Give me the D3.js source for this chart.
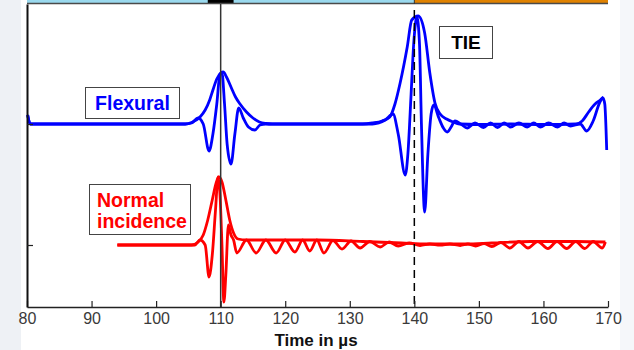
<!DOCTYPE html>
<html><head><meta charset="utf-8">
<script src="https://cdn.jsdelivr.net/npm/d3@7"></script>
<style>
html,body{margin:0;padding:0;background:#fff;}
svg{display:block;}
text{font-family:"Liberation Sans",Arial,sans-serif;}
</style></head>
<body>
<div id="chart"></div>
<script>
// ---- data (time in µs, amplitude in arbitrary units relative to each trace baseline) ----
const xTicks = [80, 90, 100, 110, 120, 130, 140, 150, 160, 170];
const xLabel = "Time in µs";
const seriesNames = ["Flexural", "Normal incidence"];
const markerTimes = [110, 140];
const markerLabel = "TIE";
const bandSegments = [
  {from: 80, to: 140, color: "#9ad9ee"},
  {from: 140, to: 170, color: "#e08200"},
  {from: 108, to: 112, color: "#000000"}
];
const flexOffset = 18.3;
const normalOffset = 6.2;

const flexWave = [
  [80.1,0.9],[80.5,0],[104.5,0],[105.5,0.1],[106.5,0.6],[107.3,0.0],[108.2,-2.7],[108.8,-1.0],
  [109.4,2.0],[109.9,5.0],[110.2,5.1],[110.6,2.0],[111.0,-2.0],[111.6,-4.0],[112.2,-1.0],
  [112.8,1.6],[113.5,0.6],[114.3,-0.3],[115.3,-0.6],[116.1,-0.1],[117,0],[133.5,0],[134.5,0.1],
  [135.5,0.4],[136.7,1.0],[137.5,-1.0],[138.6,-5.1],[139.0,-3.0],[139.5,3.0],[139.9,8.0],
  [140.4,10.7],[140.8,8.0],[141.1,0],[141.6,-8.8],[142.1,-3.0],[142.6,1.0],[143.0,1.9],
  [143.8,0.6],[144.5,-0.4],[145.1,-0.8],[145.7,-0.3],[146.3,0.3],[147.2,0.0],[148.2,-0.4],
  [149.4,0.1],[150.7,-0.35],[151.8,0.1],[152.9,-0.35],[153.9,0.1],[154.9,-0.3],[156.2,0.1],
  [157.5,-0.3],[158.5,0.1],[159.5,-0.3],[160.8,0.1],[162.2,-0.3],[163.2,0.1],[164.2,-0.2],
  [165.7,0],[166.7,-0.7],[167.7,0.3],[168.75,2.2],[169.2,2.6],[169.5,2.0],[169.8,-2.6]
];
const flexEnvelope = [
  [80.1,0.9],[80.5,0],[104.5,0],[105.5,0.15],[106.8,0.7],[107.6,1.4],[108.3,2.4],[108.8,3.4],
  [109.4,4.5],[110.0,5.1],[110.4,5.2],[110.9,4.7],[111.6,3.7],[112.3,2.7],[113.0,2.0],[114.0,1.2],
  [115.0,0.6],[116.0,0.2],[117.0,0.05],[118,0],[132,0],[133.5,0.1],[135,0.3],[136.2,0.7],
  [137.0,2.0],[137.8,4.1],[138.9,7.7],[139.6,10.4],[140.6,10.8],[141.6,9.1],[142.4,5.1],
  [143.2,2.1],[144.0,1.0],[145.0,0.5],[146,0.2],[147,0.0],[150,-0.05],[155,0.0],[160,-0.05],
  [165.0,0.0],[166.0,0.3],[167.0,1.2],[168.0,2.0],[168.8,2.4],[169.3,2.7]
];
const normalWave = [
  [94.0,0],[106.0,0],[106.8,0.5],[107.6,0.0],[108.2,-3.2],[108.7,-1.0],[109.2,3.5],[109.6,6.8],
  [109.9,5.0],[110.2,0.0],[110.5,-5.7],[110.8,-3.0],[111.2,2.0],[111.6,1.0],[112.0,0.5],
  [112.5,-0.8],[114.0,0.5],[115.5,-0.8],[117.0,0.5],[118.6,-0.8],[120.0,0.5],[121.5,-0.7],
  [122.7,0.5],[123.8,-0.6],[124.9,0.5],[126.0,-0.8],[127.4,0.45],[128.8,-0.4],[130.2,0.4],
  [131.6,-0.3],[133.1,0.35],[134.7,-0.2],[136.1,0.3],[137.5,-0.1],[139.2,0.2],[140.9,-0.05],
  [142.4,0.1],[144.0,0.0],[145.5,0.1],[147.1,-0.05],[148.3,0.1],[149.5,-0.1],[150.8,0.15],
  [152.0,-0.15],[153.4,0.25],[154.8,-0.3],[156.2,0.35],[157.6,-0.3],[159.1,0.35],[160.7,-0.35],
  [162.1,0.35],[163.6,-0.35],[165.0,0.35],[166.4,-0.35],[167.7,0.35],[169.1,-0.3],[169.6,0.3]
];
const normalEnvelope = [
  [94,0],[105.5,0],[106.5,0.3],[107.3,1.0],[108.0,2.5],[108.7,4.5],[109.3,6.2],[109.7,6.8],
  [110.2,6.3],[110.8,4.5],[111.4,2.5],[112.0,1.2],[112.7,0.6],[114,0.5],[125,0.5],[132,0.35],
  [138,0.2],[142,0.1],[148,0.1],[152,0.2],[158,0.35],[165,0.35],[169.6,0.3]
];

// ---- drawing ----
const W = 634, H = 350;
const svg = d3.select("#chart").append("svg").attr("width", W).attr("height", H);

// side background
svg.append("rect").attr("x",0).attr("y",0).attr("width",21).attr("height",H).attr("fill","#eef1f5");
svg.append("rect").attr("x",620).attr("y",0).attr("width",14).attr("height",H).attr("fill","#f5f7fa");

const x = d3.scaleLinear().domain([80,170]).range([27,608]);
const y = d3.scaleLinear().domain([0,30.3]).range([307,4]);

// top band
bandSegments.forEach(s => {
  svg.append("rect").attr("x", x(s.from)).attr("y", -2)
    .attr("width", x(s.to)-x(s.from)).attr("height", 5).attr("fill", s.color);
});
svg.append("line").attr("x1",x(80)).attr("x2",x(170)).attr("y1",3.5).attr("y2",3.5)
  .attr("stroke","#4a4a4a").attr("stroke-width",1.5);
svg.append("line").attr("x1",x(140)).attr("x2",x(140)).attr("y1",0).attr("y2",4)
  .attr("stroke","#333").attr("stroke-width",1);

// traces
const mk = off => d3.line().x(d=>x(d[0])).y(d=>y(off+d[1])).curve(d3.curveMonotoneX);
const traces = [
  {data: flexEnvelope, off: flexOffset, color:"#0000ff"},
  {data: flexWave, off: flexOffset, color:"#0000ff"},
  {data: normalEnvelope, off: normalOffset, color:"#ff0000"},
  {data: normalWave, off: normalOffset, color:"#ff0000"}
];
traces.forEach(t => {
  svg.append("path").attr("d", mk(t.off)(t.data)).attr("fill","none")
    .attr("stroke", t.color).attr("stroke-width", 2.8).attr("stroke-linejoin","round");
});

// marker lines
svg.append("line").attr("x1",x(markerTimes[0])).attr("x2",x(markerTimes[0]))
  .attr("y1",4).attr("y2",307).attr("stroke","#333").attr("stroke-width",1.5);
svg.append("line").attr("x1",x(markerTimes[1])).attr("x2",x(markerTimes[1]))
  .attr("y1",10).attr("y2",307).attr("stroke","#000").attr("stroke-width",1.5)
  .attr("stroke-dasharray","8,5");

// axes
const xAxis = d3.axisBottom(x).tickValues(xTicks).tickSizeInner(-6).tickSizeOuter(0).tickPadding(6);
const gx = svg.append("g").attr("transform","translate(0,307)").call(xAxis);
gx.select(".domain").attr("stroke","#222").attr("stroke-width",1.5);
gx.selectAll(".tick line").attr("stroke","#222").attr("stroke-width",1.2);
gx.selectAll(".tick text").attr("font-size",16).attr("fill","#3a3a3a")
  .attr("font-family","'Liberation Sans',Arial,sans-serif");

const yAxis = d3.axisLeft(y).tickValues([normalOffset, flexOffset]).tickSizeInner(-6).tickSizeOuter(0).tickFormat("");
const gy = svg.append("g").attr("transform","translate(27,0)").call(yAxis);
gy.select(".domain").attr("stroke","#111").attr("stroke-width",2);
gy.selectAll(".tick line").attr("stroke","#222").attr("stroke-width",1.2);

svg.append("text").attr("x",316).attr("y",346).attr("text-anchor","middle")
  .attr("font-size",17).attr("font-weight","bold").attr("fill","#111").text(xLabel);

// labels
svg.append("rect").attr("x",85.5).attr("y",87.5).attr("width",94).attr("height",31)
  .attr("fill","#fff").attr("stroke","#444").attr("stroke-width",1);
svg.append("text").attr("x",132.5).attr("y",109.5).attr("text-anchor","middle")
  .attr("font-size",19.5).attr("font-weight","bold").attr("fill","#0000ff").text(seriesNames[0]);

svg.append("rect").attr("x",89.5).attr("y",184.5).attr("width",101).attr("height",50)
  .attr("fill","#fff").attr("stroke","#444").attr("stroke-width",1);
const words = seriesNames[1].split(" ");
svg.append("text").attr("x",97).attr("y",207).attr("font-size",19.5).attr("font-weight","bold")
  .attr("fill","#ff0000").text(words[0]);
svg.append("text").attr("x",97).attr("y",228).attr("font-size",19.5).attr("font-weight","bold")
  .attr("fill","#ff0000").text(words[1]);

svg.append("rect").attr("x",439.5).attr("y",26.5).attr("width",53).attr("height",32)
  .attr("fill","#fff").attr("stroke","#444").attr("stroke-width",1);
svg.append("text").attr("x",466).attr("y",49).attr("text-anchor","middle").attr("font-size",19)
  .attr("font-weight","bold").attr("fill","#000").text(markerLabel);
</script>
</body></html>
